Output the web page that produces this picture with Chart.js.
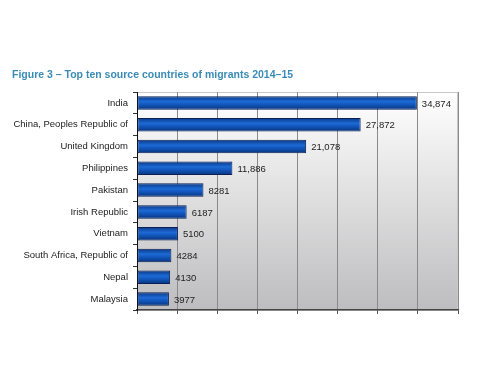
<!DOCTYPE html>
<html><head><meta charset="utf-8">
<script src="https://cdn.jsdelivr.net/npm/chart.js@4"></script>
<style>html,body{margin:0;padding:0;background:#fff}#wrap{width:500px;height:380px}</style>
</head><body><div id="wrap"><canvas id="c" width="500" height="380"></canvas></div>
<script>
const titleText = "Figure 3 – Top ten source countries of migrants 2014–15";
const countries = ["India","China, Peoples Republic of","United Kingdom","Philippines","Pakistan","Irish Republic","Vietnam","South Africa, Republic of","Nepal","Malaysia"];
const migrants = [34874,27872,21078,11886,8281,6187,5100,4284,4130,3977];
const xMax = 40000;
const xStep = 5000;

const fmt = v => v >= 10000 ? v.toLocaleString('en-US') : String(v);

const bgPlugin = {
  id:'bg',
  beforeDraw(chart){
    const {ctx, chartArea:a} = chart;
    const g = ctx.createLinearGradient(0,a.top,0,a.bottom);
    g.addColorStop(0,'#ffffff');
    g.addColorStop(1,'#bdbdbf');
    ctx.save();
    ctx.fillStyle = g;
    ctx.fillRect(a.left,a.top,a.right-a.left,a.bottom-a.top);
    ctx.strokeStyle = '#c8c8c8';
    ctx.lineWidth = 1;
    ctx.strokeRect(a.left+0.5,a.top+0.5,a.right-a.left-1,a.bottom-a.top);
    ctx.restore();
  },
  afterDraw(chart){
    const ctx = chart.ctx;
    ctx.save();
    ctx.font = 'bold 10.5px Arial, "Liberation Sans", sans-serif';
    ctx.fillStyle = '#3a8bb5';
    ctx.textBaseline = 'middle';
    ctx.fillText(titleText, 12, 75);
    const meta = chart.getDatasetMeta(0);
    ctx.font = '9.5px Arial, "Liberation Sans", sans-serif';
    ctx.fillStyle = '#222';
    ctx.textAlign = 'left';
    meta.data.forEach((el,i)=>{
      ctx.fillText(fmt(migrants[i]), el.x + 5, el.y + 1);
    });
    ctx.restore();
  }
};

new Chart(document.getElementById('c'), {
  type:'bar',
  data:{
    labels: countries,
    datasets:[{
      data: migrants,
      backgroundColor(c){
        const chart = c.chart;
        const ys = chart.scales && chart.scales.y;
        if(!ys || !chart.chartArea) return '#0b4fb0';
        const y = ys.getPixelForValue(c.dataIndex);
        const h = 13;
        if(!isFinite(y)) return '#0b4fb0';
        const g = chart.ctx.createLinearGradient(0,y-h/2,0,y+h/2);
        g.addColorStop(0,'#0a3a88');
        g.addColorStop(0.4,'#1d6ad6');
        g.addColorStop(0.6,'#1358bf');
        g.addColorStop(1,'#07367f');
        return g;
      },
      borderColor:'#0a1f55',
      borderWidth:1,
      borderSkipped:false,
      categoryPercentage:0.62,
      barPercentage:1
    }]
  },
  plugins:[bgPlugin],
  options:{
    indexAxis:'y',
    responsive:false,
    animation:false,
    devicePixelRatio:1,
    layout:{padding:{left:0,right:42,top:92,bottom:66}},
    plugins:{legend:{display:false},tooltip:{enabled:false},title:{display:false}},
    scales:{
      x:{
        min:0,max:xMax,
        ticks:{display:false,stepSize:xStep},
        grid:{color:'#8a8a8a',lineWidth:1,drawTicks:true,tickLength:4,tickColor:'#555'},
        border:{display:true,color:'#444',width:1.5},
        afterFit(s){s.height=4;}
      },
      y:{
        ticks:{color:'#222',font:{family:'Arial, "Liberation Sans", sans-serif',size:9.5},padding:5},
        grid:{drawOnChartArea:false,drawTicks:true,tickLength:4,color:'#333',offset:true},
        border:{display:true,color:'#111',width:1},
        afterFit(s){s.width=137;}
      }
    }
  }
});
</script></body></html>
